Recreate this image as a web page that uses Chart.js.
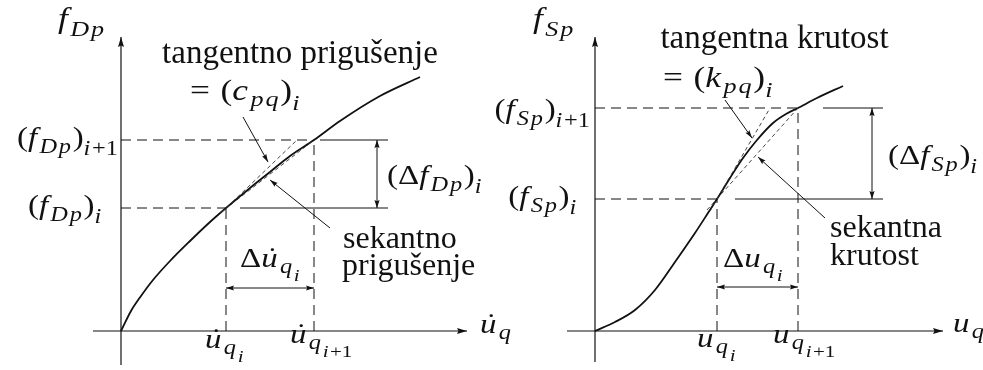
<!DOCTYPE html>
<html>
<head>
<meta charset="utf-8">
<script src="https://cdn.jsdelivr.net/npm/chart.js@4.4.1/dist/chart.umd.min.js"></script>
<style>
  html, body { margin: 0; padding: 0; background: #fff; }
  #wrap { position: relative; width: 983px; height: 370px; overflow: hidden; background: #fff; }
  canvas { position: absolute; top: 0; }
  #damp { left: 0; }
  #spring { left: 450px; }
</style>
</head>
<body>
<div id="wrap">
  <canvas id="damp" width="540" height="370"></canvas>
  <canvas id="spring" width="533" height="370"></canvas>
</div>
<script>
// ---- Damping force f_Dp versus velocity u̇_q (left panel) ----
const dampVel   = [0, 1.0, 2.0, 3.2, 4.9, 6.9, 8.9, 10.5, 12.9, 14.9, 16.9, 19.3, 21.9, 25.9, 29.9];
const dampForce = [0, 2.0, 3.5, 5.1, 7.0, 9.0, 10.9, 12.3, 14.3, 15.9, 17.5, 19.1, 21.0, 23.5, 25.4];
const dampVelSteps   = [10.5, 19.3];   // u̇_q,i and u̇_q,i+1
const dampForceSteps = [12.3, 19.1];   // (f_Dp)_i and (f_Dp)_i+1
const dampTangent    = [[10.1, 11.9], [17.6, 19.1]];
const dampSecant     = [[9.9, 11.8], [19.3, 19.1]];

// ---- Spring force f_Sp versus displacement u_q (right panel) ----
const springDisp  = [0, 2.0, 4.0, 6.0, 8.0, 10.0, 11.3, 12.2, 13.5, 14.8, 16.2, 17.8, 19.1, 20.3, 22.2, 24.8];
const springForce = [0, 0.9, 2.1, 4.1, 6.9, 9.8, 11.8, 13.2, 15.3, 17.3, 19.1, 20.8, 21.7, 22.3, 23.3, 24.5];
const springDispSteps  = [12.2, 20.3];  // u_q,i and u_q,i+1
const springForceSteps = [13.2, 22.3];  // (f_Sp)_i and (f_Sp)_i+1
const springTangent    = [[11.5, 12.0], [17.5, 22.3]];
const springSecant     = [[11.2, 12.1], [20.3, 22.3]];

const INK = '#111';
const FONT = '"Liberation Serif", "DejaVu Serif", serif';

// ---------- tiny TeX-like label renderer ----------
function parseTex(src) {
  const out = [];
  let i = 0;
  function group(lvl, dot) {
    if (src[i] === '{') { i++; seq(lvl, '}', dot); i++; }
    else token(lvl, dot);
  }
  function token(lvl, dot) {
    const c = src[i];
    if (c === '\\') {
      let j = i + 1;
      if (/[a-zA-Z]/.test(src[j])) { while (j < src.length && /[a-zA-Z]/.test(src[j])) j++; }
      else j++;
      const name = src.slice(i + 1, j);
      i = j;
      if (name === 'Delta') out.push({ t: '\u0394', lvl, it: false });
      else if (name === ';') out.push({ t: '', lvl, space: 0.3 });
      else if (name === ',') out.push({ t: '', lvl, space: 0.17 });
      else if (name === 'dot') group(lvl, true);
      return;
    }
    if (c === '{') { i++; seq(lvl, '}', dot); i++; return; }
    i++;
    if (c === '_') {
      const base = out.length ? out[out.length - 1] : null;
      const drop = base && base.t === ')' ? 0.35 : base && base.t === 'f' ? 0.27 : 0.22;
      const start = out.length;
      group(lvl + 1, false);
      for (let k = start; k < out.length; k++) if (out[k].lvl === lvl + 1) out[k].drop = drop;
      return;
    }
    if (c === ' ') return;
    out.push({ t: c, lvl, it: /[a-zA-Z]/.test(c), dot });
  }
  function seq(lvl, end, dot) {
    while (i < src.length && src[i] !== end) { token(lvl, dot); dot = false; }
  }
  seq(0, undefined, false);
  return out;
}

const MATH_STRETCH = 1.22;
function drawTex(ctx, src, x, y, size, align) {
  const toks = parseTex(src);
  const scale = [1, 0.74, 0.64];
  let w = 0;
  const placed = [];
  let lvl1Drop = 0.22;
  toks.forEach(t => {
    const L = Math.min(t.lvl, 2);
    const s = size * scale[L];
    if (t.space) { w += t.space * size; return; }
    if (L === 1) lvl1Drop = t.drop || 0.22;
    const dy = L === 0 ? 0 : L === 1 ? (t.drop || 0.22) * size : (lvl1Drop + 0.3) * size;
    const font = (t.it ? 'italic ' : '') + s.toFixed(2) + 'px ' + FONT;
    ctx.font = font;
    const tw = ctx.measureText(t.t).width;
    placed.push({ t, s, font, dx: w, dy, tw });
    w += tw + (t.it ? s * 0.07 : 0);
  });
  const total = w * MATH_STRETCH;
  const x0 = align === 'right' ? x - total : align === 'center' ? x - total / 2 : x;
  ctx.save();
  ctx.translate(x0, y);
  ctx.scale(MATH_STRETCH, 1);
  ctx.fillStyle = INK;
  ctx.textBaseline = 'alphabetic';
  ctx.textAlign = 'left';
  placed.forEach(p => {
    ctx.font = p.font;
    ctx.fillText(p.t.t, p.dx, p.dy);
    if (p.t.dot) {
      ctx.beginPath();
      ctx.arc(p.dx + p.tw * 0.58 + p.s * 0.05, p.dy - p.s * 0.64, p.s * 0.05, 0, Math.PI * 2);
      ctx.fill();
    }
  });
  ctx.restore();
}

const texLabels = {
  id: 'texLabels',
  afterDatasetsDraw(chart, args, opts) {
    const ctx = chart.ctx;
    const xs = chart.scales.x, ys = chart.scales.y;
    ctx.save();
    (opts.items || []).forEach(it => {
      const px = xs.getPixelForValue(it.x), py = ys.getPixelForValue(it.y);
      if (it.text) {
        ctx.font = it.size + 'px ' + FONT;
        ctx.fillStyle = INK;
        ctx.textAlign = it.align || 'left';
        ctx.textBaseline = 'alphabetic';
        ctx.fillText(it.text, px, py);
      } else {
        drawTex(ctx, it.tex, px, py, it.size, it.align || 'left');
      }
    });
    ctx.restore();
  }
};

const arrowHeads = {
  id: 'arrowHeads',
  afterDatasetsDraw(chart) {
    const ctx = chart.ctx;
    chart.data.datasets.forEach((ds, i) => {
      if (!ds.arrow) return;
      const pts = chart.getDatasetMeta(i).data;
      const n = pts.length;
      const L = ds.arrowLen || 9, W = ds.arrowWidth || 2.6;
      const head = (tip, from) => {
        const ang = Math.atan2(tip.y - from.y, tip.x - from.x);
        ctx.save();
        ctx.translate(tip.x, tip.y);
        ctx.rotate(ang);
        ctx.beginPath();
        ctx.moveTo(0, 0);
        ctx.lineTo(-L, W);
        ctx.lineTo(-L * 0.85, 0);
        ctx.lineTo(-L, -W);
        ctx.closePath();
        ctx.fillStyle = ds.borderColor;
        ctx.fill();
        ctx.restore();
      };
      if (ds.arrow === 'end' || ds.arrow === 'both') head(pts[n - 1], pts[n - 2]);
      if (ds.arrow === 'both') head(pts[0], pts[1]);
    });
  }
};

function seg(a, b, extra) {
  return Object.assign({
    data: [{ x: a[0], y: a[1] }, { x: b[0], y: b[1] }],
    showLine: true, pointRadius: 0, borderColor: INK, borderWidth: 1, fill: false
  }, extra || {});
}
const GUIDE = { borderDash: [10, 6], borderWidth: 1 };
const FINE  = { borderDash: [4, 3], borderWidth: 0.9, borderColor: '#333' };

function curveSet(xs, ys) {
  return {
    data: xs.map((x, k) => ({ x, y: ys[k] })),
    showLine: true, pointRadius: 0, borderColor: INK, borderWidth: 1.8,
    cubicInterpolationMode: 'monotone', fill: false
  };
}

function makeChart(id, xRange, yRange, datasets, labels) {
  return new Chart(document.getElementById(id), {
    type: 'scatter',
    data: { datasets },
    options: {
      responsive: false,
      devicePixelRatio: 1,
      animation: false,
      events: [],
      layout: { padding: 0 },
      scales: {
        x: { type: 'linear', display: false, min: xRange[0], max: xRange[1] },
        y: { type: 'linear', display: false, min: yRange[0], max: yRange[1] }
      },
      plugins: { legend: { display: false }, tooltip: { enabled: false }, texLabels: { items: labels } }
    },
    plugins: [arrowHeads, texLabels]
  });
}

function build() {
  // ---------- left panel: tangent / secant damping ----------
  const dV = dampVelSteps, dF = dampForceSteps;
  makeChart('damp', [-12.1, 41.9], [-3.9, 33.1], [
    seg([-2.8, 0], [34.6, 0], { borderWidth: 1.2, arrow: 'end', arrowLen: 10, arrowWidth: 3 }),
    seg([0, -3.4], [0, 29.4], { borderWidth: 1.2, arrow: 'end', arrowLen: 10, arrowWidth: 3 }),
    seg([0, dF[1]], [dV[1], dF[1]], GUIDE),
    seg([0, dF[0]], [dV[0], dF[0]], GUIDE),
    seg([dV[0], 0], [dV[0], dF[0]], GUIDE),
    seg([dV[1], 0], [dV[1], dF[1]], GUIDE),
    seg([19.9, dF[1]], [26.7, dF[1]]),
    seg([11.9, dF[0]], [26.7, dF[0]]),
    seg([25.6, dF[0]], [25.6, dF[1]], { arrow: 'both', arrowLen: 8, arrowWidth: 2.6 }),
    seg([dV[0], 4.3], [dV[1], 4.3], { arrow: 'both', arrowLen: 8, arrowWidth: 2.6 }),
    seg(dampTangent[0], dampTangent[1], FINE),
    seg(dampSecant[0], dampSecant[1], FINE),
    seg([12.2, 21.4], [14.7, 16.9], { arrow: 'end', arrowLen: 8, arrowWidth: 2.4 }),
    seg([20.9, 10.3], [14.9, 15.1], { arrow: 'end', arrowLen: 8, arrowWidth: 2.4 }),
    curveSet(dampVel, dampForce)
  ], [
    { text: 'tangentno prigušenje', x: 17.9, y: 26.8, size: 33, align: 'center' },
    { tex: '=\\;(c_{pq})_i', x: 6.9, y: 23.1, size: 29 },
    { tex: '(f_{Dp})_{i+1}', x: -0.3, y: 18.5, size: 27, align: 'right' },
    { tex: '(f_{Dp})_i', x: -1.8, y: 11.7, size: 27, align: 'right' },
    { tex: '(\\Delta f_{Dp})_i', x: 26.6, y: 14.7, size: 27 },
    { text: 'sekantno', x: 22.2, y: 8.3, size: 32 },
    { text: 'prigušenje', x: 22.1, y: 5.6, size: 32 },
    { tex: '\\Delta\\dot{u}_{q_i}', x: 11.9, y: 6.4, size: 27 },
    { tex: 'f_{Dp}', x: -6.3, y: 30.3, size: 29 },
    { tex: '\\dot{u}_{q_i}', x: 8.4, y: -1.7, size: 27 },
    { tex: '\\dot{u}_{q_{i+1}}', x: 16.9, y: -1.2, size: 27 },
    { tex: '\\dot{u}_q', x: 35.9, y: -0.2, size: 27 }
  ]);

  // ---------- right panel: tangent / secant stiffness ----------
  const sU = springDispSteps, sF = springForceSteps;
  makeChart('spring', [-14.5, 38.8], [-3.9, 33.1], [
    seg([-2.8, 0], [34.8, 0], { borderWidth: 1.2, arrow: 'end', arrowLen: 10, arrowWidth: 3 }),
    seg([0, -3.1], [0, 29.4], { borderWidth: 1.2, arrow: 'end', arrowLen: 10, arrowWidth: 3 }),
    seg([0, sF[1]], [sU[1], sF[1]], GUIDE),
    seg([0, sF[0]], [sU[0], sF[0]], GUIDE),
    seg([sU[0], 0], [sU[0], sF[0]], GUIDE),
    seg([sU[1], 0], [sU[1], sF[1]], GUIDE),
    seg([22.8, sF[1]], [28.8, sF[1]]),
    seg([14.0, sF[0]], [28.8, sF[0]]),
    seg([27.7, sF[0]], [27.7, sF[1]], { arrow: 'both', arrowLen: 8, arrowWidth: 2.6 }),
    seg([sU[0], 4.4], [sU[1], 4.4], { arrow: 'both', arrowLen: 8, arrowWidth: 2.6 }),
    seg(springTangent[0], springTangent[1], FINE),
    seg(springSecant[0], springSecant[1], FINE),
    seg([13.0, 23.1], [15.7, 19.3], { arrow: 'end', arrowLen: 8, arrowWidth: 2.4 }),
    seg([23.0, 11.3], [16.3, 17.4], { arrow: 'end', arrowLen: 8, arrowWidth: 2.4 }),
    curveSet(springDisp, springForce)
  ], [
    { text: 'tangentna krutost', x: 17.95, y: 28.3, size: 33, align: 'center' },
    { tex: '=\\;(k_{pq})_i', x: 6.8, y: 24.4, size: 29 },
    { tex: '(f_{Sp})_{i+1}', x: -0.5, y: 21.3, size: 27, align: 'right' },
    { tex: '(f_{Sp})_i', x: -1.7, y: 12.6, size: 27, align: 'right' },
    { tex: '(\\Delta f_{Sp})_i', x: 29.3, y: 16.7, size: 27 },
    { text: 'sekantna', x: 23.5, y: 9.4, size: 32 },
    { text: 'krutost', x: 23.5, y: 6.6, size: 32 },
    { tex: '\\Delta u_{q_i}', x: 12.8, y: 6.4, size: 27 },
    { tex: 'f_{Sp}', x: -6.2, y: 30.3, size: 29 },
    { tex: 'u_{q_i}', x: 10.2, y: -1.6, size: 27 },
    { tex: 'u_{q_{i+1}}', x: 17.8, y: -1.2, size: 27 },
    { tex: 'u_q', x: 35.8, y: -0.1, size: 27 }
  ]);
}

const fontLoads = document.fonts ? Promise.all([
  document.fonts.load('30px "Liberation Serif"'),
  document.fonts.load('italic 30px "Liberation Serif"')
]).catch(() => null) : Promise.resolve();
fontLoads.then(build, build);
</script>
</body>
</html>
